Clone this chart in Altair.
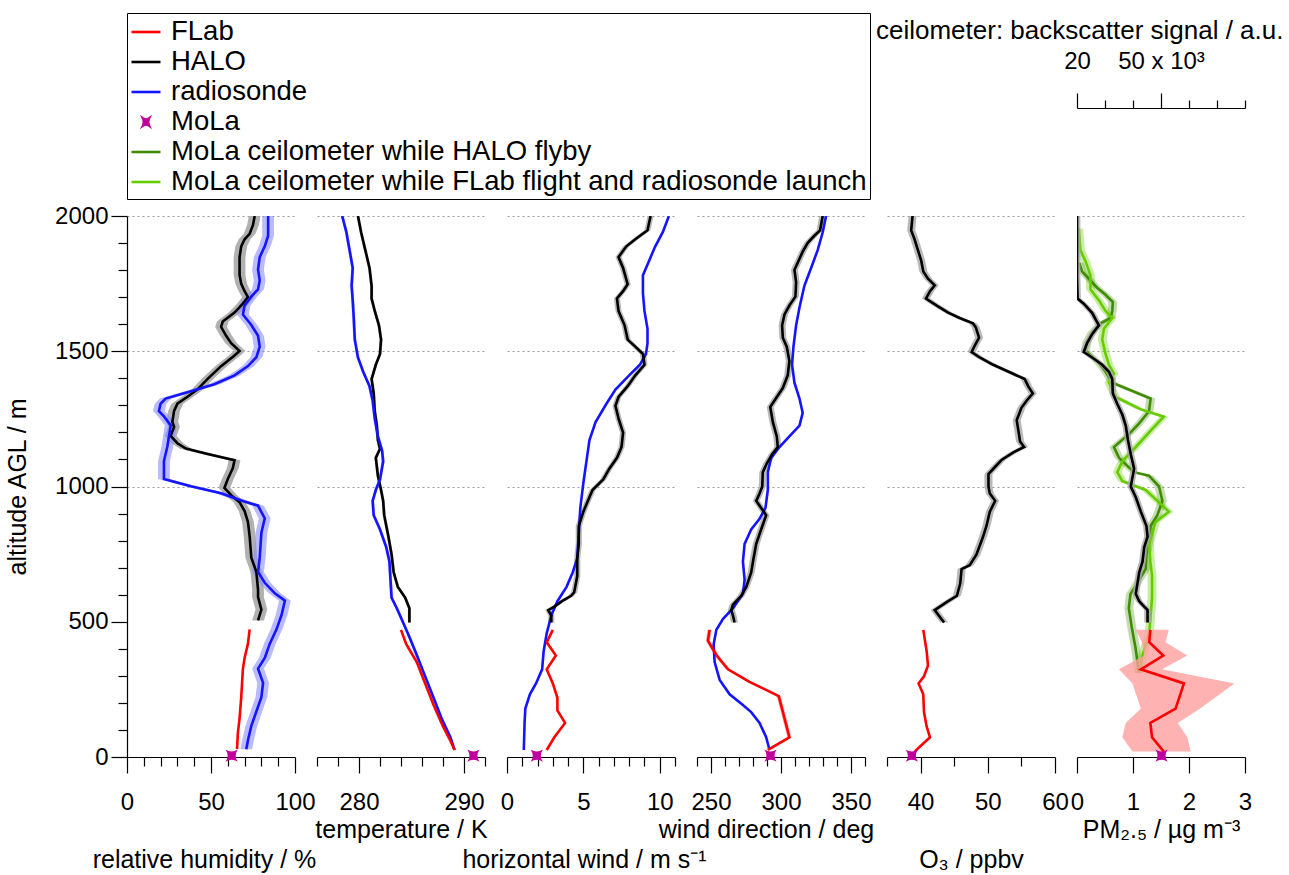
import altair as alt
import pandas as pd

FONT = "Liberation Sans"
RED = "#ff0000"
BLACK = "#000000"
BLUE = "#1414ff"
MAG = "#c0009c"
DGREEN = "#3f8c00"
LGREEN = "#66cc00"

# ---------------- data (altitude in m AGL) ----------------
# relative humidity / %
rh_halo_alt = [2000, 1967, 1934, 1914, 1888, 1848, 1782, 1749, 1722, 1700, 1676, 1643, 1610, 1590, 1557,
               1530, 1501, 1484, 1445, 1398, 1359, 1332, 1306, 1279, 1239, 1220, 1187, 1160, 1140, 1120,
               1097, 1068, 1028, 995, 968, 942, 909, 869, 816, 737, 684, 618, 591, 545, 505]
rh_halo = [76, 75, 73, 70, 68, 67, 67, 68, 70, 72, 69, 64, 57, 56, 59,
           62, 67, 64, 56, 48, 42, 36, 30, 28, 27, 28, 26, 30, 35, 48,
           64, 63, 60, 58, 62, 67, 70, 72, 73, 74, 77, 78, 78, 80, 78]
rh_sonde_alt = [2000, 1927, 1888, 1848, 1802, 1762, 1729, 1702, 1669, 1636, 1597, 1557, 1517, 1478, 1445,
                1411, 1378, 1352, 1325, 1306, 1279, 1259, 1226, 1187, 1147, 1094, 1028, 1001, 975, 948,
                929, 882, 829, 737, 684, 644, 605, 578, 525, 472, 419, 366, 327, 274, 221, 168, 115, 62, 29]
rh_sonde = [84, 84, 82, 79, 78, 79, 78, 74, 70, 69, 74, 78, 79, 77, 72,
            64, 52, 38, 23, 20, 19, 22, 26, 25, 24, 22, 22, 38, 56, 68,
            78, 82, 80, 79, 78, 82, 88, 94, 92, 89, 85, 82, 78, 81, 80, 77, 74, 72, 71]
rh_flab_alt = [472, 419, 366, 327, 221, 142, 89, 29]
rh_flab = [73, 72, 70, 69, 68, 67, 66, 65.5]
rh_mola = 62.3

# temperature / K
t_halo_alt = [2000, 1940, 1874, 1808, 1742, 1695, 1649, 1596, 1543, 1490, 1450, 1397, 1344, 1278, 1225,
              1172, 1139, 1106, 1040, 987, 947, 894, 815, 749, 683, 629, 589, 550, 497]
t_halo = [279.9, 280.2, 280.6, 281.0, 281.2, 281.2, 281.5, 281.9, 282.1, 282.0, 281.6, 281.2, 281.4, 281.5, 281.7,
          281.8, 282.0, 281.6, 281.8, 282.1, 282.3, 282.4, 282.8, 283.1, 283.3, 283.7, 284.4, 284.8, 284.8]
t_sonde_alt = [2000, 1940, 1874, 1808, 1742, 1689, 1623, 1543, 1477, 1424, 1371, 1318, 1252, 1185, 1132,
               1093, 1026, 987, 947, 894, 841, 775, 722, 656, 589, 550, 497, 444, 377, 298, 219, 139, 73, 26]
t_sonde = [278.4, 278.8, 279.1, 279.4, 279.3, 279.4, 279.5, 279.6, 279.9, 280.4, 281.0, 281.3, 281.5, 281.8, 282.2,
           282.3, 282.0, 281.6, 281.3, 281.4, 282.0, 282.6, 282.9, 283.0, 283.1, 283.6, 284.2, 284.8, 285.5, 286.3,
           287.1, 287.9, 288.7, 289.1]
t_flab_alt = [470, 417, 351, 272, 192, 113, 60, 26]
t_flab = [284.0, 284.5, 285.5, 286.3, 287.1, 288.0, 288.7, 289.1]
t_mola = 290.9

# horizontal wind / m s-1
ws_halo_alt = [2000, 1947, 1914, 1887, 1848, 1808, 1748, 1722, 1695, 1649, 1596, 1543, 1517, 1490, 1450,
               1411, 1371, 1331, 1298, 1252, 1199, 1146, 1106, 1066, 1026, 987, 947, 907, 854, 788,
               735, 669, 609, 596, 576, 556, 543, 523, 497]
ws_halo = [9.4, 9.2, 8.4, 7.8, 7.3, 7.6, 7.9, 7.6, 7.2, 7.3, 7.7, 7.9, 8.4, 8.9, 9.0,
           8.4, 7.9, 7.3, 7.1, 7.3, 7.6, 7.5, 7.2, 6.7, 6.3, 5.6, 5.3, 5.0, 4.7, 4.7,
           4.6, 4.6, 4.4, 4.2, 3.6, 3.1, 2.7, 2.9, 2.9]
ws_sonde_alt = [2000, 1940, 1887, 1834, 1781, 1715, 1649, 1583, 1530, 1490, 1450, 1411, 1358, 1305, 1238,
                1172, 1093, 1013, 921, 828, 735, 682, 629, 576, 523, 457, 391, 324, 272, 232, 179, 126, 26]
ws_sonde = [10.6, 10.2, 9.7, 9.3, 8.9, 8.9, 9.0, 9.2, 9.2, 9.1, 8.7, 8.0, 7.1, 6.5, 5.8,
            5.4, 5.2, 5.0, 4.8, 4.7, 4.6, 4.3, 3.9, 3.3, 2.9, 2.6, 2.4, 2.3, 1.9, 1.5, 1.2, 1.15, 1.1]
ws_flab_alt = [470, 424, 375, 324, 272, 219, 172, 126, 73, 26]
ws_flab = [3.0, 2.6, 3.2, 2.6, 3.0, 3.3, 3.3, 3.8, 3.1, 2.6]
ws_mola = 1.95

# wind direction / deg
wd_halo_alt = [2000, 1947, 1927, 1901, 1868, 1828, 1801, 1755, 1702, 1669, 1636, 1596, 1550, 1517, 1464,
               1411, 1364, 1331, 1294, 1238, 1185, 1146, 1119, 1086, 1053, 1000, 974, 947, 894, 841,
               788, 735, 682, 629, 596, 563, 543, 523, 497]
wd_halo = [329.8, 327.9, 323.8, 319.1, 315.5, 312.0, 309.6, 310.8, 310.3, 306.0, 302.5, 300.8, 301.3, 304.1, 306.0,
           304.8, 301.3, 297.0, 292.3, 294.2, 297.0, 297.7, 293.7, 289.9, 287.0, 286.6, 284.7, 282.3, 289.4, 285.8,
           282.3, 280.4, 278.7, 275.2, 271.6, 265.7, 264.5, 265.7, 266.8]
wd_sonde_alt = [2000, 1940, 1874, 1808, 1742, 1662, 1596, 1517, 1450, 1384, 1325, 1272, 1225, 1185, 1146,
                1106, 1053, 987, 921, 881, 841, 788, 722, 656, 603, 550, 510, 470, 417, 351,
                285, 232, 192, 166, 126, 73, 26]
wd_sonde = [332.2, 329.8, 326.2, 321.5, 316.7, 313.2, 310.8, 308.9, 307.9, 309.6, 313.2, 315.5, 313.2, 306.0, 298.9,
            293.0, 290.6, 290.6, 288.9, 284.7, 278.7, 274.0, 272.8, 274.0, 272.8, 265.7, 258.5, 253.8, 251.9, 252.6,
            256.2, 263.3, 272.8, 278.7, 284.7, 289.4, 291.8]
wd_flab_alt = [470, 430, 377, 324, 278, 225, 73, 26]
wd_flab = [249.0, 247.8, 253.8, 262.1, 277.5, 298.4, 306.0, 290.6]
wd_mola = 292.5

# O3 / ppbv
o3_halo_alt = [2000, 1947, 1914, 1874, 1834, 1795, 1768, 1744, 1722, 1695, 1669, 1643, 1623, 1603, 1589,
               1550, 1523, 1497, 1477, 1450, 1424, 1397, 1371, 1344, 1318, 1291, 1245, 1199, 1166, 1146,
               1126, 1099, 1073, 1046, 1000, 974, 947, 907, 854, 815, 748, 709, 695, 642, 596,
               576, 543, 517, 497]
o3_halo = [38.8, 38.6, 39.1, 39.6, 40.1, 40.4, 41.1, 42.1, 41.4, 40.8, 42.4, 44.1, 45.8, 47.8, 48.2,
           48.7, 48.1, 47.6, 48.8, 50.8, 53.1, 55.5, 56.0, 56.7, 55.8, 55.0, 54.3, 54.6, 54.8, 55.4,
           53.8, 52.1, 51.1, 50.1, 50.1, 50.3, 51.1, 50.3, 49.8, 49.3, 48.3, 47.3, 46.1, 45.9, 45.4,
           44.1, 42.1, 42.9, 43.5]
o3_flab_alt = [470, 391, 338, 298, 272, 232, 166, 113, 73, 20]
o3_flab = [40.4, 40.9, 41.1, 40.5, 39.7, 40.4, 40.5, 40.9, 41.4, 39.1]
o3_mola = 38.7

# PM2.5 / ug m-3
pm_halo_alt = [2000, 1914, 1781, 1695, 1676, 1642, 1596, 1563, 1530, 1497, 1477, 1450, 1424, 1397, 1344,
               1305, 1265, 1225, 1172, 1119, 1066, 1000, 960, 907, 854, 815, 775, 722, 682, 642,
               603, 576, 556, 543, 497]
pm_halo = [0.0, 0.0, 0.0, 0.01, 0.12, 0.27, 0.39, 0.27, 0.18, 0.12, 0.27, 0.45, 0.57, 0.63, 0.64,
           0.72, 0.81, 0.87, 0.91, 0.96, 1.02, 0.96, 1.05, 1.14, 1.24, 1.26, 1.20, 1.17, 1.11, 1.08,
           1.05, 1.11, 1.20, 1.26, 1.26]
pm_flab_alt = [470, 424, 375, 324, 272, 179, 126, 73, 20]
pm_flab = [1.31, 1.29, 1.54, 1.14, 1.91, 1.76, 1.31, 1.34, 1.55]
pm_flab_lo = [1.05, 1.16, 1.20, 0.75, 0.99, 1.14, 0.87, 0.81, 0.99]
pm_flab_hi = [1.64, 1.58, 1.97, 1.52, 2.81, 2.20, 1.80, 1.97, 2.03]
pm_mola = 1.51

# ceilometer backscatter signal / 10^3 a.u.
cl_halo_alt = [1828, 1795, 1768, 1735, 1709, 1682, 1649, 1623, 1603, 1570, 1536, 1503, 1457, 1424, 1384,
               1325, 1278, 1232, 1199, 1146, 1106, 1053, 1040, 1000, 947, 894, 854, 801, 748, 695,
               642, 603, 550, 470, 404, 311]
cl_halo = [20.8, 21.8, 24.2, 27.2, 30.2, 32.8, 32.6, 32.0, 28.4, 25.4, 23.6, 23.0, 27.8, 30.2, 32.6,
           46.3, 45.7, 42.1, 39.1, 33.2, 35.0, 40.3, 45.7, 49.3, 50.5, 48.7, 46.3, 45.7, 44.8, 44.5,
           41.5, 39.1, 38.5, 39.7, 40.9, 42.1]
cl_flab_alt = [1954, 1874, 1834, 1781, 1729, 1689, 1649, 1623, 1583, 1543, 1490, 1450, 1417, 1384, 1331,
               1285, 1258, 1212, 1146, 1093, 1053, 1020, 987, 907, 868, 788, 722, 669, 589, 510,
               457, 377, 311]
cl_flab = [20.6, 21.2, 23.0, 24.8, 24.8, 27.8, 30.2, 32.6, 29.6, 29.0, 30.2, 31.4, 33.2, 31.4, 33.8,
           42.8, 51.0, 46.8, 41.0, 36.2, 34.4, 36.2, 44.6, 52.8, 48.0, 45.8, 46.2, 46.8, 46.8, 46.2,
           45.8, 43.4, 42.2]

MOLA_ALT = 5

# uncertainty half-widths of the shaded bands
ERR = {"rh": 3.5, "t": 0.15, "ws": 0.2, "wd": 2.5, "o3": 0.6, "pm": 0.06, "cl": 1.6}

SERIES = ["FLab", "HALO", "radiosonde", "MoLa",
          "MoLa ceilometer while HALO flyby",
          "MoLa ceilometer while FLab flight and radiosonde launch"]
SERIES_COLORS = [RED, BLACK, BLUE, MAG, DGREEN, LGREEN]
LINE_SYM = "M-1,0H1"
STAR = "M-0.36,-0.36Q0,-0.12 0.36,-0.36Q0.12,0 0.36,0.36Q0,0.12 -0.36,0.36Q-0.12,0 -0.36,-0.36Z"
# legend version of the star: nested outlines so that the stroke fills the glyph
STAR_LEG = ("M-0.2,-0.24Q0,-0.1 0.2,-0.24Q0.09,0 0.2,0.24Q0,0.1 -0.2,0.24Q-0.09,0 -0.2,-0.24Z"
            "M-0.1,-0.12Q0,-0.05 0.1,-0.12Q0.05,0 0.1,0.12Q0,0.05 -0.1,0.12Q-0.05,0 -0.1,-0.12Z"
            "M0,-0.1V0.1M-0.06,0H0.06")
SERIES_SHAPES = [LINE_SYM, LINE_SYM, LINE_SYM, STAR_LEG, LINE_SYM, LINE_SYM]

W, H = 168, 541
Y_SCALE = alt.Scale(domain=[0, 2000], nice=False, zero=False)
Y_VALUES = list(range(0, 2001, 100))
GRID_OP = {"condition": {"test": "datum.value % 500 === 0 && datum.value !== 500", "value": 1}, "value": 0}


def y_axis(show):
    if show:
        return alt.Axis(values=Y_VALUES, format="d", title="altitude AGL / m",
                        labelExpr="datum.value % 500 === 0 ? datum.label : ''",
                        tickSize={"condition": {"test": "datum.value % 500 === 0", "value": 16}, "value": 9},
                        labelPadding=3, titlePadding=24,
                        grid=True, gridOpacity=GRID_OP, gridDash=[2, 3], gridColor="#9a9a9a")
    return alt.Axis(values=Y_VALUES, labels=False, ticks=False, domain=False, title=None,
                    grid=True, gridOpacity=GRID_OP, gridDash=[2, 3], gridColor="#9a9a9a")


def x_axis(title, values, major, title_pad, title_x=None):
    kw = {}
    if title_x is not None:
        kw["titleX"] = title_x
    return alt.Axis(orient="bottom", values=values, title=title, format="d",
                    labelExpr=f"({major}) ? datum.label : ''",
                    tickSize={"condition": {"test": major, "value": 16}, "value": 9},
                    labelPadding=17, titlePadding=title_pad, labelOverlap=False, labelFlush=False,
                    labelBound=False, grid=False, **kw)


def frame(alts, vals, err=None, lo=None, hi=None):
    d = pd.DataFrame({"alt": alts, "v": vals})
    if err is not None:
        d["lo"] = d["v"] - err
        d["hi"] = d["v"] + err
    if lo is not None:
        d["lo"] = lo
        d["hi"] = hi
    return d


def line(d, color, xs, xa, ya, width=2.6):
    return alt.Chart(d).mark_line(color=color, strokeWidth=width, clip=True).encode(
        x=alt.X("v:Q", scale=xs, axis=xa),
        y=alt.Y("alt:Q", scale=Y_SCALE, axis=ya),
        order=alt.Order("alt:Q"))


def band(d, color, opacity, xs, xa, ya):
    return alt.Chart(d).mark_area(orient="horizontal", color=color, opacity=opacity, clip=True).encode(
        x=alt.X("lo:Q", scale=xs, axis=xa),
        x2="hi:Q",
        y=alt.Y("alt:Q", scale=Y_SCALE, axis=ya))


def star(value, xs, xa, ya):
    d = pd.DataFrame({"alt": [MOLA_ALT], "v": [value]})
    return alt.Chart(d).mark_point(shape=STAR, filled=True, size=1150, color=MAG, opacity=1,
                                   strokeWidth=0).encode(
        x=alt.X("v:Q", scale=xs, axis=xa),
        y=alt.Y("alt:Q", scale=Y_SCALE, axis=ya))


GRAY = "#a8a8a8"
LBLUE = "#8c8cff"
PINK = "#ff9f9f"

# ---------- panel 1: relative humidity ----------
xs1 = alt.Scale(domain=[0, 100], nice=False, zero=False)
xa1 = x_axis("relative humidity / %", list(range(0, 101, 10)), "datum.value % 50 === 0", 33, 77)
ya1 = y_axis(True)
legend_df = pd.DataFrame({"series": SERIES, "alt": [-1000] * 6, "v": [50] * 6})
leg = alt.Legend(title=None, orient="none", legendX=0, legendY=-203, direction="vertical",
                 strokeColor="black", fillColor="white", padding=3, labelFont=FONT, labelFontSize=27.5,
                 labelColor="black", labelLimit=1200, symbolSize=841, symbolStrokeWidth=2.6,
                 rowPadding=0, labelOffset=9, symbolOpacity=1)
legend_layer = alt.Chart(legend_df).mark_point(clip=True, filled=False, strokeWidth=2.6).encode(
    x=alt.X("v:Q", scale=xs1, axis=xa1),
    y=alt.Y("alt:Q", scale=Y_SCALE, axis=ya1),
    color=alt.Color("series:N", scale=alt.Scale(domain=SERIES, range=SERIES_COLORS), legend=leg),
    shape=alt.Shape("series:N", scale=alt.Scale(domain=SERIES, range=SERIES_SHAPES), legend=leg))
p1 = alt.layer(
    band(frame(rh_halo_alt, rh_halo, ERR["rh"]), GRAY, 0.9, xs1, xa1, ya1),
    band(frame(rh_sonde_alt, rh_sonde, ERR["rh"]), LBLUE, 0.6, xs1, xa1, ya1),
    line(frame(rh_halo_alt, rh_halo), BLACK, xs1, xa1, ya1),
    line(frame(rh_sonde_alt, rh_sonde), BLUE, xs1, xa1, ya1),
    line(frame(rh_flab_alt, rh_flab), RED, xs1, xa1, ya1),
    star(rh_mola, xs1, xa1, ya1),
    legend_layer,
).properties(width=W, height=H)

# ---------- panel 2: temperature ----------
ya = y_axis(False)
xs2 = alt.Scale(domain=[276, 292], nice=False, zero=False)
xa2 = x_axis("temperature / K", list(range(276, 293, 2)), "datum.value % 10 === 0", 3)
p2 = alt.layer(
    band(frame(t_halo_alt, t_halo, ERR["t"]), GRAY, 0.7, xs2, xa2, ya),
    band(frame(t_sonde_alt, t_sonde, ERR["t"]), LBLUE, 0.5, xs2, xa2, ya),
    line(frame(t_halo_alt, t_halo), BLACK, xs2, xa2, ya),
    line(frame(t_sonde_alt, t_sonde), BLUE, xs2, xa2, ya),
    line(frame(t_flab_alt, t_flab), RED, xs2, xa2, ya),
    star(t_mola, xs2, xa2, ya),
).properties(width=W, height=H)

# ---------- panel 3: horizontal wind ----------
xs3 = alt.Scale(domain=[0, 11], nice=False, zero=False)
xa3 = x_axis("horizontal wind / m s\u207b\u00b9", list(range(0, 12)), "datum.value % 5 === 0", 33, 77)
p3 = alt.layer(
    band(frame(ws_halo_alt, ws_halo, ERR["ws"]), GRAY, 0.8, xs3, xa3, ya),
    line(frame(ws_sonde_alt, ws_sonde), BLUE, xs3, xa3, ya),
    line(frame(ws_halo_alt, ws_halo), BLACK, xs3, xa3, ya),
    line(frame(ws_flab_alt, ws_flab), RED, xs3, xa3, ya),
    star(ws_mola, xs3, xa3, ya),
).properties(width=W, height=H)

# ---------- panel 4: wind direction ----------
xs4 = alt.Scale(domain=[240, 360], nice=False, zero=False)
xa4 = x_axis("wind direction / deg", list(range(240, 361, 10)), "datum.value % 50 === 0", 3, 69)
p4 = alt.layer(
    band(frame(wd_halo_alt, wd_halo, ERR["wd"]), GRAY, 0.8, xs4, xa4, ya),
    band(frame(wd_flab_alt, wd_flab, 1.5), PINK, 0.8, xs4, xa4, ya),
    line(frame(wd_sonde_alt, wd_sonde), BLUE, xs4, xa4, ya),
    line(frame(wd_halo_alt, wd_halo), BLACK, xs4, xa4, ya),
    line(frame(wd_flab_alt, wd_flab), RED, xs4, xa4, ya),
    star(wd_mola, xs4, xa4, ya),
).properties(width=W, height=H)

# ---------- panel 5: O3 ----------
xs5 = alt.Scale(domain=[35, 60], nice=False, zero=False)
xa5 = x_axis("O\u2083 / ppbv", list(range(35, 61, 5)), "datum.value % 10 === 0", 33)
p5 = alt.layer(
    band(frame(o3_halo_alt, o3_halo, ERR["o3"]), GRAY, 0.8, xs5, xa5, ya),
    line(frame(o3_halo_alt, o3_halo), BLACK, xs5, xa5, ya),
    line(frame(o3_flab_alt, o3_flab), RED, xs5, xa5, ya),
    star(o3_mola, xs5, xa5, ya),
).properties(width=W, height=H)

# ---------- panel 6: PM2.5 + ceilometer ----------
xs6 = alt.Scale(domain=[0, 3], nice=False, zero=False)
xa6 = x_axis("PM\u2082.\u2085 / \u00b5g m\u207b\u00b3", [0, 1, 2, 3], "true", 3)
xs6b = alt.Scale(domain=[20, 80], nice=False, zero=False)
xa6b = alt.Axis(orient="top", offset=108, values=list(range(20, 81, 10)), format="d",
                title="ceilometer: backscatter signal / a.u.",
                labelExpr="datum.value === 20 ? '20' : (datum.value === 50 ? '50 x 10\u00b3' : '')",
                tickSize={"condition": {"test": "datum.value === 20 || datum.value === 50", "value": 15},
                          "value": 8},
                labelPadding=20, labelOverlap=False, labelFlush=False, labelBound=False,
                titleAlign="right", titleAnchor="start", titleX=206, titleY=-70, titleBaseline="alphabetic",
                titleFontSize=26, grid=False)
green = alt.layer(
    band(frame(cl_flab_alt, cl_flab, ERR["cl"]), LGREEN, 0.35, xs6b, xa6b, ya),
    band(frame(cl_halo_alt, cl_halo, ERR["cl"]), DGREEN, 0.3, xs6b, xa6b, ya),
    line(frame(cl_halo_alt, cl_halo), DGREEN, xs6b, xa6b, ya),
    line(frame(cl_flab_alt, cl_flab), LGREEN, xs6b, xa6b, ya),
)
pm = alt.layer(
    band(frame(pm_flab_alt, pm_flab, lo=pm_flab_lo, hi=pm_flab_hi), PINK, 0.8, xs6, xa6, ya),
    band(frame(pm_halo_alt, pm_halo, ERR["pm"]), GRAY, 0.8, xs6, xa6, ya),
    line(frame(pm_halo_alt, pm_halo), BLACK, xs6, xa6, ya),
    line(frame(pm_flab_alt, pm_flab), RED, xs6, xa6, ya),
    star(pm_mola, xs6, xa6, ya),
)
p6 = alt.layer(green, pm).resolve_scale(x="independent").properties(width=W, height=H)

chart = alt.hconcat(p1, p2, p3, p4, p5, p6, spacing=22, bounds="flush").properties(
    padding={"left": 5, "top": 12, "right": 5, "bottom": 5}, background="white"
).configure_view(stroke=None).configure_axis(
    labelFont=FONT, titleFont=FONT, labelFontSize=24, titleFontSize=25, titleFontWeight="normal",
    labelColor="black", titleColor="black", domainColor="black", tickColor="black",
    domainWidth=1.2, tickWidth=1.2
)

chart.save("out.html", embed_options={"renderer": "svg", "actions": False})
